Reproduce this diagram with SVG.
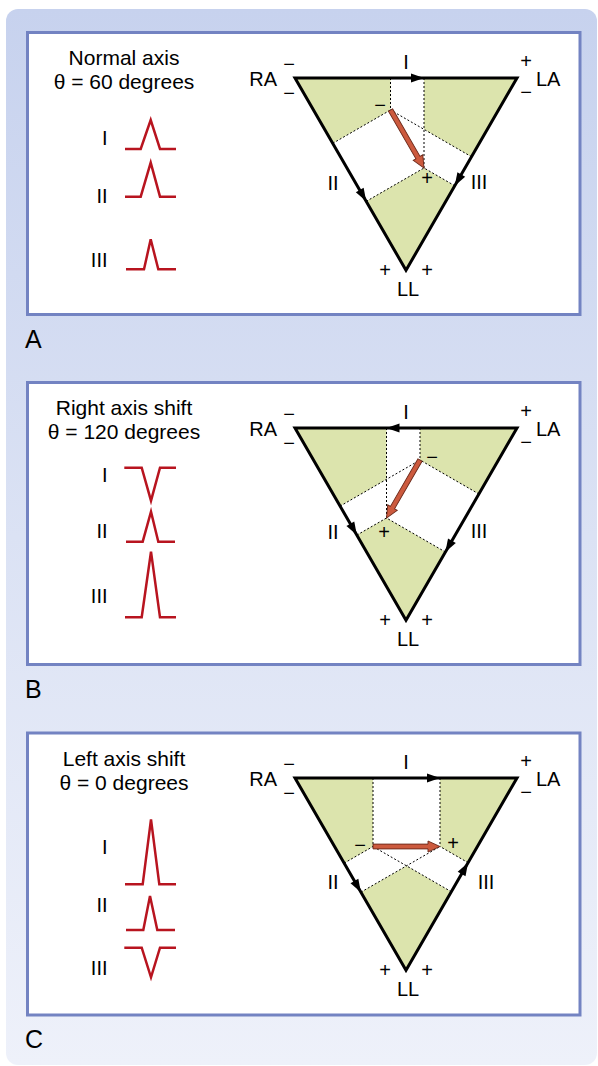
<svg xmlns="http://www.w3.org/2000/svg" width="598" height="1066" viewBox="0 0 598 1066">
<defs>
<linearGradient id="bg" x1="0" y1="0" x2="0" y2="1">
<stop offset="0" stop-color="#c7d2ee"/>
<stop offset="0.5" stop-color="#dbe2f4"/>
<stop offset="1" stop-color="#eef1fa"/>
</linearGradient>
<path id="ah" d="M0,0 L-13,-4.5 L-13,4.5 Z"/>
<path id="vec" d="M-67,-2.4 L-12,-2.4 L-12,-5.5 L0,0 L-12,5.5 L-12,2.4 L-67,2.4 Z"/>
<style>
.panel{fill:#ffffff;stroke:#7383c2;stroke-width:3}
.tri{fill:#dce4ad}
.strip{fill:#ffffff}
.side{fill:none;stroke:#000;stroke-width:3;stroke-linejoin:miter}
.dash{fill:none;stroke:#000;stroke-width:1;stroke-dasharray:2,2}
.ah{fill:#000}
.vec{fill:#cc5a3e;stroke:#6a2718;stroke-width:0.9;stroke-linejoin:miter}
.wave{fill:none;stroke:#b8141f;stroke-width:2.5;stroke-linejoin:miter}
text{font-family:"Liberation Sans",Arial,sans-serif;fill:#000}
.title{font-size:21px;text-anchor:middle}
.lbl{font-size:20px}
.sg{font-size:20px;text-anchor:middle}
.mid{text-anchor:middle}
.end{text-anchor:end}
.letter{font-size:25px}
</style>
</defs>
<rect x="6" y="9" width="591" height="1056" rx="12" fill="url(#bg)"/>

<!-- Panel A -->
<g id="panelA">
<rect class="panel" x="27.5" y="32.5" width="552.5" height="282"/>
<text class="title" x="124" y="65">Normal axis</text>
<text class="title" x="124" y="89">θ = 60 degrees</text>
<text class="lbl end" x="107.5" y="145">I</text>
<text class="lbl end" x="107.5" y="203">II</text>
<text class="lbl end" x="107.5" y="267">III</text>
<path class="wave" d="M125,149 H140.7 L150.7,120 L160,149 H176"/>
<path class="wave" d="M125,196.7 H140.7 L150.7,162.7 L160,196.7 H176"/>
<path class="wave" d="M126,269.3 H144 L150.7,239.3 L158.3,269.3 H176"/>
<g id="triA">
<polygon class="tri" points="295,78 517,78 406,270.26"/>
<polygon class="strip" points="390.5,78 424,78 424,168 390.5,110"/>
<polygon class="strip" points="332.73,143.35 366.22,201.35 424,168 390.5,110"/>
<polygon class="strip" points="471.52,156.77 454.78,185.77 424,168 390.5,110"/>
<path class="dash" d="M390.5,78 L390.5,110 M424,78 L424,168 M332.73,143.35 L390.5,110 M366.22,201.35 L424,168 M471.52,156.77 L390.5,110 M454.78,185.77 L424,168"/>
<polygon class="side" points="295,78 517,78 406,270.26"/>
<use href="#ah" class="ah" transform="translate(424,78)"/>
<use href="#ah" class="ah" transform="translate(366.22,201.35) rotate(60)"/>
<use href="#ah" class="ah" transform="translate(454.78,185.77) rotate(120)"/>
<use href="#vec" class="vec" transform="translate(424,168) rotate(60)"/>
<text class="lbl mid" x="406" y="69">I</text>
<text class="lbl end" x="277" y="86">RA</text>
<text class="lbl" x="536" y="86">LA</text>
<text class="lbl mid" x="408" y="296">LL</text>
<text class="lbl mid" x="333" y="190">II</text>
<text class="lbl mid" x="479" y="189">III</text>
<text class="sg" x="289" y="71">−</text>
<text class="sg" x="289" y="100">−</text>
<text class="sg" x="526" y="68">+</text>
<text class="sg" x="526" y="99">−</text>
<text class="sg" x="385" y="277">+</text>
<text class="sg" x="427" y="277">+</text>
<text class="sg" x="380" y="112">−</text>
<text class="sg" x="427" y="185">+</text>
</g>
</g>
<text id="letterA" class="letter" x="25" y="348">A</text>

<!-- Panel B -->
<g id="panelB">
<rect class="panel" x="27.5" y="382.5" width="552.5" height="282"/>
<text class="title" x="124" y="415">Right axis shift</text>
<text class="title" x="124" y="439">θ = 120 degrees</text>
<text class="lbl end" x="107.5" y="482">I</text>
<text class="lbl end" x="107.5" y="538">II</text>
<text class="lbl end" x="107.5" y="603">III</text>
<path class="wave" d="M124.3,467.7 H141.7 L151,500.7 L160,467.7 H176"/>
<path class="wave" d="M126,541.7 H142.7 L151,511.7 L158.3,541.7 H175"/>
<path class="wave" d="M125,617.3 H141.7 L151,551.7 L160,617.3 H176"/>
<g id="triB">
<polygon class="tri" points="295,428 517,428 406,620.26"/>
<polygon class="strip" points="420,428 386.5,428 386.5,518 420,460"/>
<polygon class="strip" points="340.11,506.12 356.85,535.12 386.5,518 420,460"/>
<polygon class="strip" points="478.9,494 445.41,552 386.5,518 420,460"/>
<path class="dash" d="M420,428 L420,460 M386.5,428 L386.5,518 M340.11,506.12 L420,460 M356.85,535.12 L386.5,518 M478.9,494 L420,460 M445.41,552 L386.5,518"/>
<polygon class="side" points="295,428 517,428 406,620.26"/>
<use href="#ah" class="ah" transform="translate(386.5,428) rotate(180)"/>
<use href="#ah" class="ah" transform="translate(356.85,535.12) rotate(60)"/>
<use href="#ah" class="ah" transform="translate(445.41,552) rotate(120)"/>
<use href="#vec" class="vec" transform="translate(386.5,518) rotate(120)"/>
<text class="lbl mid" x="406" y="419">I</text>
<text class="lbl end" x="277" y="436">RA</text>
<text class="lbl" x="536" y="436">LA</text>
<text class="lbl mid" x="408" y="646">LL</text>
<text class="lbl mid" x="333" y="539">II</text>
<text class="lbl mid" x="479" y="538">III</text>
<text class="sg" x="289" y="421">−</text>
<text class="sg" x="289" y="450">−</text>
<text class="sg" x="526" y="418">+</text>
<text class="sg" x="526" y="449">−</text>
<text class="sg" x="385" y="627">+</text>
<text class="sg" x="427" y="627">+</text>
<text class="sg" x="432" y="464">−</text>
<text class="sg" x="384" y="539">+</text>
</g>
</g>
<text id="letterB" class="letter" x="25" y="698">B</text>

<!-- Panel C -->
<g id="panelC">
<rect class="panel" x="27.5" y="733" width="552.5" height="282"/>
<text class="title" x="124" y="766">Left axis shift</text>
<text class="title" x="124" y="790">θ = 0 degrees</text>
<text class="lbl end" x="107.5" y="854">I</text>
<text class="lbl end" x="107.5" y="912">II</text>
<text class="lbl end" x="107.5" y="975">III</text>
<path class="wave" d="M125,884.3 H142.7 L151,819.3 L159.3,884.3 H176"/>
<path class="wave" d="M126,930 H143.3 L150,896 L157.3,930 H175"/>
<path class="wave" d="M124.3,947.7 H141.7 L151,977.3 L160,947.7 H176"/>
<g id="triC">
<polygon class="tri" points="295,778 517,778 406,970.26"/>
<polygon class="strip" points="373,778 440,778 440,846.5 373,846.5"/>
<polygon class="strip" points="344.16,863.15 360.91,892.16 440,846.5 373,846.5"/>
<polygon class="strip" points="451.34,891.73 468.09,862.71 440,846.5 373,846.5"/>
<path class="dash" d="M373,778 L373,846.5 M440,778 L440,846.5 M344.16,863.15 L373,846.5 M360.91,892.16 L440,846.5 M451.34,891.73 L373,846.5 M468.09,862.71 L440,846.5"/>
<polygon class="side" points="295,778 517,778 406,970.26"/>
<use href="#ah" class="ah" transform="translate(440,778)"/>
<use href="#ah" class="ah" transform="translate(360.91,892.16) rotate(60)"/>
<use href="#ah" class="ah" transform="translate(468.09,862.71) rotate(-60)"/>
<use href="#vec" class="vec" transform="translate(440,846.5)"/>
<text class="lbl mid" x="406" y="769">I</text>
<text class="lbl end" x="277" y="786">RA</text>
<text class="lbl" x="536" y="786">LA</text>
<text class="lbl mid" x="408" y="996">LL</text>
<text class="lbl mid" x="333" y="889">II</text>
<text class="lbl mid" x="486" y="889">III</text>
<text class="sg" x="289" y="771">−</text>
<text class="sg" x="289" y="800">−</text>
<text class="sg" x="526" y="768">+</text>
<text class="sg" x="526" y="799">−</text>
<text class="sg" x="385" y="977">+</text>
<text class="sg" x="427" y="977">+</text>
<text class="sg" x="360" y="852">−</text>
<text class="sg" x="453" y="850">+</text>
</g>
</g>
<text id="letterC" class="letter" x="25" y="1048">C</text>
</svg>
